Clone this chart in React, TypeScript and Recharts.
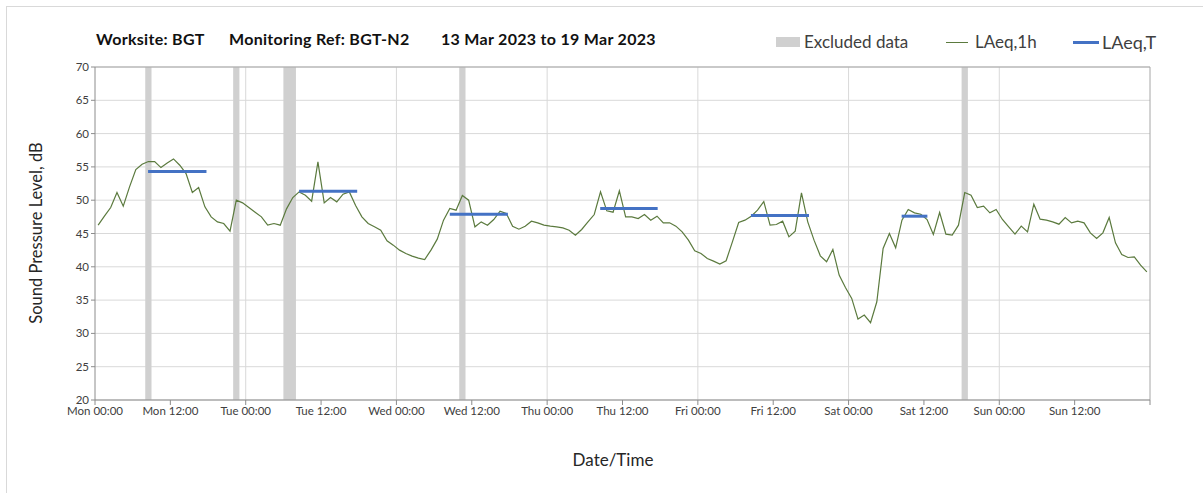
import React from 'react';
import {
  ComposedChart,
  Line,
  XAxis,
  YAxis,
  CartesianGrid,
  ReferenceArea,
  ReferenceLine,
} from 'recharts';

const DAY_NAMES = ['Mon', 'Tue', 'Wed', 'Thu', 'Fri', 'Sat', 'Sun'];
const X_TICKS = [0, 12, 24, 36, 48, 60, 72, 84, 96, 108, 120, 132, 144, 156, 168];
const Y_TICKS = [20, 25, 30, 35, 40, 45, 50, 55, 60, 65, 70];
const DAY_LINES = [24, 48, 72, 96, 120, 144];

// hourly LAeq,1h values, Mon 00:00 .. Sun 23:00
const HOURLY_LAEQ = [
  46.25, 47.6, 48.9, 51.15, 49.1, 52.0, 54.6, 55.4, 55.8, 55.8, 54.9, 55.6,
  56.2, 55.25, 54.0, 51.15, 51.9, 49.0, 47.5, 46.75, 46.5, 45.35, 50.0, 49.6,
  48.9, 48.2, 47.5, 46.25, 46.5, 46.25, 48.7, 50.4, 51.25, 50.75, 49.85, 55.75,
  49.6, 50.4, 49.75, 50.9, 51.25, 49.2, 47.5, 46.5, 46.0, 45.5, 43.9, 43.25,
  42.5, 42.0, 41.6, 41.3, 41.1, 42.5, 44.15, 47.0, 48.75, 48.5, 50.7, 50.0,
  46.0, 46.75, 46.25, 47.1, 48.35, 48.0, 46.1, 45.65, 46.1, 46.85, 46.6, 46.25,
  46.1, 46.0, 45.85, 45.5, 44.75, 45.6, 46.75, 47.85, 51.25, 48.4, 48.2, 51.4,
  47.5, 47.5, 47.25, 47.85, 47.0, 47.6, 46.6, 46.6, 46.1, 45.25, 44.0, 42.4,
  42.0, 41.25, 40.85, 40.4, 40.9, 43.75, 46.65, 47.0, 47.6, 48.5, 49.8, 46.25,
  46.35, 46.85, 44.5, 45.35, 51.1, 46.75, 44.0, 41.65, 40.75, 42.6, 38.75, 36.9,
  35.25, 32.15, 32.75, 31.6, 34.75, 42.75, 45.0, 42.85, 47.0, 48.6, 48.1, 47.9,
  47.1, 44.85, 48.15, 44.9, 44.75, 46.25, 51.15, 50.75, 48.9, 49.1, 48.1, 48.6,
  47.1, 46.0, 44.9, 46.1, 45.25, 49.4, 47.15, 47.0, 46.75, 46.4, 47.4, 46.6,
  46.85, 46.6, 45.1, 44.25, 45.1, 47.4, 43.6, 41.85, 41.4, 41.5, 40.25, 39.25,
];

// excluded data periods (hours from Mon 00:00)
const EXCLUDED_START = [8, 22, 30, 58, 138];
const EXCLUDED_END = [9, 23, 32, 59, 139];

// LAeq,T daytime periods
const PERIOD_START = [8.45, 32.5, 56.5, 80.45, 104.45, 128.45];
const PERIOD_END = [17.75, 41.75, 65.75, 89.6, 113.7, 132.55];
const PERIOD_LAEQ = [54.3, 51.35, 47.9, 48.75, 47.7, 47.6];

const hourlyData = HOURLY_LAEQ.map((v, i) => ({ h: i + 0.5, v }));

const GREEN = '#5b7a3e';
const BLUE = '#4472c4';
const GREY_BAR = '#d0d0d0';
const FONT = 'Lato, "Open Sans", sans-serif';

const fmtX = (v: number) => {
  if (v >= 168) return '';
  const d = DAY_NAMES[Math.floor(v / 24)];
  return `${d} ${v % 24 === 0 ? '00:00' : '12:00'}`;
};

const abs = (left: number, top: number, extra: React.CSSProperties = {}): React.CSSProperties => ({
  position: 'absolute',
  left,
  top,
  whiteSpace: 'nowrap',
  fontFamily: FONT,
  ...extra,
});

const TITLE_STYLE: React.CSSProperties = { fontSize: 16, fontWeight: 700, color: '#111', letterSpacing: 0.3 };
const LEGEND_STYLE: React.CSSProperties = { fontSize: 17, color: '#404040' };

export default function App() {
  return (
    <div style={{ position: 'absolute', left: 0, top: 0, width: 1203, height: 493, background: '#fff', overflow: 'hidden' }}>
      <div style={{ position: 'absolute', left: 6, top: 6, width: 1300, height: 600, borderTop: '1px solid #d9d9d9', borderLeft: '1px solid #d9d9d9' }} />

      <div style={abs(96, 29, TITLE_STYLE)}>Worksite: BGT</div>
      <div style={abs(229, 29, TITLE_STYLE)}>Monitoring Ref: BGT-N2</div>
      <div style={abs(441, 29, TITLE_STYLE)}>13 Mar 2023 to 19 Mar 2023</div>

      <div style={abs(776, 37, { width: 24, height: 10, background: GREY_BAR })} />
      <div style={abs(804, 31, LEGEND_STYLE)}>Excluded data</div>
      <div style={abs(946, 42, { width: 22, height: 1, background: GREEN })} />
      <div style={abs(975, 31, LEGEND_STYLE)}>LAeq,1h</div>
      <div style={abs(1073, 41, { width: 26, height: 3, background: BLUE })} />
      <div style={abs(1102, 31, { ...LEGEND_STYLE, fontSize: 18 })}>LAeq,T</div>

      <div
        style={abs(36, 233, {
          fontSize: 16.5,
          color: '#262626',
          transform: 'translate(-50%, -50%) rotate(-90deg)',
        })}
      >
        Sound Pressure Level, dB
      </div>
      <div style={abs(613, 459, { fontSize: 17, color: '#262626', transform: 'translate(-50%, -50%)' })}>Date/Time</div>

      <div style={{ position: 'absolute', left: 0, top: 0 }}>
        <ComposedChart
          width={1203}
          height={493}
          margin={{ top: 67, left: 65, right: 53, bottom: 63 }}
        >
          <CartesianGrid vertical={false} stroke="#d9d9d9" />
          {DAY_LINES.map((d) => (
            <ReferenceLine key={`d${d}`} x={d} stroke="#d9d9d9" />
          ))}
          {EXCLUDED_START.map((s, i) => (
            <ReferenceArea
              key={`e${i}`}
              x1={s}
              x2={EXCLUDED_END[i]}
              y1={20}
              y2={70}
              fill={GREY_BAR}
              fillOpacity={1}
              stroke="none"
            />
          ))}
          <ReferenceLine y={70} stroke="#a6a6a6" />
          <ReferenceLine x={168} stroke="#a6a6a6" />
          <XAxis
            type="number"
            dataKey="h"
            domain={[0, 168]}
            ticks={X_TICKS}
            tickFormatter={fmtX}
            interval={0}
            allowDataOverflow
            height={30}
            stroke="#8c8c8c"
            tickSize={5}
            tick={{ fill: '#404040', fontSize: 11.5, fontFamily: FONT }}
          />
          <YAxis
            type="number"
            domain={[20, 70]}
            ticks={Y_TICKS}
            interval={0}
            allowDataOverflow
            width={30}
            stroke="#8c8c8c"
            tickSize={4}
            tick={{ fill: '#404040', fontSize: 11.5, fontFamily: FONT }}
          />
          <Line
            data={hourlyData}
            dataKey="v"
            type="linear"
            stroke={GREEN}
            strokeWidth={1.2}
            dot={false}
            activeDot={false}
            isAnimationActive={false}
          />
          {PERIOD_START.map((s, i) => (
            <Line
              key={`p${i}`}
              data={[
                { h: s, t: PERIOD_LAEQ[i] },
                { h: PERIOD_END[i], t: PERIOD_LAEQ[i] },
              ]}
              dataKey="t"
              type="linear"
              stroke={BLUE}
              strokeWidth={3}
              dot={false}
              activeDot={false}
              isAnimationActive={false}
            />
          ))}
        </ComposedChart>
      </div>
    </div>
  );
}
